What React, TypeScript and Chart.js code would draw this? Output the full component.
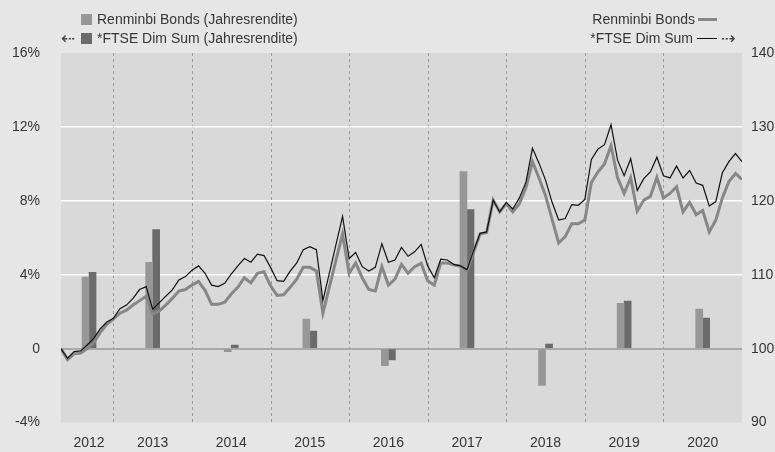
import React, { useEffect, useRef } from 'react';
import { Chart, registerables } from 'chart.js';

Chart.register(...registerables);

// ---- Data ----
const yearLabels = ['2012', '2013', '2014', '2015', '2016', '2017', '2018', '2019', '2020'];
// x position (decimal year) of each annual bar pair / year label
const yearCenters = [2012.69, 2013.5, 2014.5, 2015.5, 2016.5, 2017.5, 2018.5, 2019.5, 2020.5];
const yearBoundaries = [2013, 2014, 2015, 2016, 2017, 2018, 2019, 2020];

// annual returns in %
const rmbAnnual = [3.87, 4.67, -0.16, 1.6, -0.92, 9.58, -1.99, 2.46, 2.14];
const ftseAnnual = [4.13, 6.45, 0.2, 0.95, -0.61, 7.53, 0.25, 2.57, 1.65];

// monthly index series, month-end values from end of April 2012 to end of December 2020
const startYear = 2012;
const startMonth = 4;
const rmbIndex = [
  100.0, 98.5, 99.3, 99.4, 100.0, 100.8, 102.2, 103.3, 104.0,
  104.8, 105.2, 105.9, 106.5, 107.1, 104.7, 105.1, 105.9, 106.8, 107.8, 108.0, 108.6,
  109.1, 107.9, 106.0, 106.0, 106.3, 107.4, 108.3, 109.6, 108.9, 110.2, 110.4, 108.5,
  107.2, 107.3, 108.3, 109.4, 111.0, 111.0, 110.5, 104.8, 108.4, 112.0, 115.5, 110.2,
  111.6, 109.6, 108.0, 107.8, 111.1, 108.6, 109.4, 111.4, 110.2, 111.1, 111.55, 109.2,
  108.6, 111.6, 111.6, 111.3, 111.2, 110.5, 113.0, 115.5, 115.7, 120.1, 118.5, 119.6,
  118.5, 119.6, 121.75, 125.3, 123.1, 120.7, 117.5, 114.3, 115.15, 116.9, 116.9, 117.4,
  122.5, 123.9, 125.0, 127.45, 123.1, 121.0, 123.1, 118.6, 120.1, 120.6, 123.2, 120.4,
  121.0, 121.9, 118.5, 119.8, 118.15, 118.7, 115.8, 117.4, 120.4, 122.6, 123.7, 122.9,
];
const ftseIndex = [
  100.0, 98.7, 99.6, 99.7, 100.5, 101.4, 102.7, 103.6, 104.1,
  105.4, 105.9, 106.8, 108.0, 108.4, 105.35, 106.2, 107.1, 107.95, 109.3, 109.75, 110.6,
  111.2, 110.2, 108.6, 108.4, 108.85, 110.1, 111.2, 112.2, 111.7, 112.8, 112.6, 111.0,
  109.2, 109.1, 110.5, 111.6, 113.4, 113.8, 113.4, 106.5, 110.3, 114.1, 117.9, 112.2,
  113.0, 111.1, 110.5, 111.0, 114.2, 111.7, 112.0, 113.7, 112.5, 113.1, 114.1, 111.2,
  109.6, 112.1, 112.0, 111.4, 111.2, 110.7, 113.2, 115.6, 115.8, 120.1, 118.5, 119.8,
  118.9, 120.4, 122.5, 127.1, 125.1, 122.8, 119.8, 117.4, 117.6, 119.5, 119.4, 120.2,
  125.6, 127.0, 127.6, 130.3, 125.5, 123.4, 125.7, 121.4, 123.0, 123.9, 125.9, 123.4,
  123.1, 124.7, 123.1, 124.1, 122.4, 122.1, 119.3, 119.9, 123.8, 125.3, 126.4, 125.3,
];

const monthX = (i: number) => startYear + (startMonth + i) / 12;

const FONT = "'Liberation Sans', Arial, Helvetica, sans-serif";
const TEXT = '#363636';

const bgPlugin = {
  id: 'bgPlugin',
  beforeDraw(chart: any) {
    const { ctx, chartArea: a } = chart;
    ctx.save();
    ctx.fillStyle = '#e6e6e6';
    ctx.fillRect(0, 0, chart.width, chart.height);
    ctx.fillStyle = '#d9d9d9';
    ctx.fillRect(a.left, a.top, a.right - a.left, a.bottom - a.top);
    const xs = chart.scales.x;
    ctx.strokeStyle = '#9c9c9c';
    ctx.lineWidth = 1;
    ctx.setLineDash([3, 3]);
    yearBoundaries.forEach((yr) => {
      const px = Math.round(xs.getPixelForValue(yr)) + 0.5;
      ctx.beginPath();
      ctx.moveTo(px, a.top);
      ctx.lineTo(px, a.bottom);
      ctx.stroke();
    });
    ctx.restore();
  },
};

export default function App() {
  const ref = useRef<HTMLCanvasElement>(null);

  useEffect(() => {
    document.body.style.margin = '0';
    const canvas = ref.current!;
    const chart = new Chart(canvas, {
      type: 'line',
      data: {
        datasets: [
          {
            type: 'line',
            label: '*FTSE Dim Sum',
            data: ftseIndex.map((v, i) => ({ x: monthX(i), y: v })),
            yAxisID: 'y1',
            borderColor: '#111111',
            borderWidth: 1.2,
            pointRadius: 0,
            tension: 0,
            order: 0,
          },
          {
            type: 'line',
            label: 'Renminbi Bonds',
            data: rmbIndex.map((v, i) => ({ x: monthX(i), y: v })),
            yAxisID: 'y1',
            borderColor: '#878787',
            borderWidth: 3,
            pointRadius: 0,
            tension: 0,
            order: 1,
          },
          {
            type: 'bar',
            label: 'Renminbi Bonds (Jahresrendite)',
            data: rmbAnnual.map((v, i) => ({ x: yearCenters[i], y: v })),
            yAxisID: 'y',
            backgroundColor: '#979797',
            barThickness: 7,
            order: 2,
          },
          {
            type: 'bar',
            label: '*FTSE Dim Sum (Jahresrendite)',
            data: ftseAnnual.map((v, i) => ({ x: yearCenters[i], y: v })),
            yAxisID: 'y',
            backgroundColor: '#6b6b6b',
            barThickness: 7,
            order: 3,
          },
        ] as any,
      },
      options: {
        animation: false,
        responsive: false,
        devicePixelRatio: 1,
        layout: { padding: { top: 53, left: 0, right: 0, bottom: 0 } },
        plugins: {
          legend: { display: false },
          tooltip: { enabled: false },
        },
        font: { family: FONT, size: 14 } as any,
        scales: {
          x: {
            type: 'linear',
            min: monthX(0),
            max: monthX(rmbIndex.length - 1),
            offset: false,
            grid: { display: false, drawTicks: false, offset: false } as any,
            border: { display: false },
            afterBuildTicks: (s: any) => {
              s.ticks = yearCenters.map((v) => ({ value: v }));
            },
            afterFit: (s: any) => {
              s.height = 28;
            },
            ticks: {
              autoSkip: false,
              maxRotation: 0,
              minRotation: 0,
              padding: 12,
              color: TEXT,
              font: { family: FONT, size: 14 },
              callback: (_v: any, i: number) => yearLabels[i],
            },
          },
          y: {
            type: 'linear',
            position: 'left',
            min: -4,
            max: 16,
            afterFit: (s: any) => {
              s.width = 61;
            },
            border: { display: false },
            grid: {
              drawTicks: false,
              color: (c: any) =>
                c.tick && c.tick.value === 0
                  ? '#a9a9a9'
                  : c.tick && (c.tick.value === 16 || c.tick.value === -4)
                  ? 'rgba(0,0,0,0)'
                  : '#ffffff',
              lineWidth: (c: any) => (c.tick && c.tick.value === 0 ? 2 : 1.5),
            },
            ticks: {
              stepSize: 4,
              padding: 21,
              color: TEXT,
              font: { family: FONT, size: 14 },
              callback: (v: any) => (Number(v) === 0 ? '0' : `${v}%`),
            },
          },
          y1: {
            type: 'linear',
            position: 'right',
            min: 90,
            max: 140,
            afterFit: (s: any) => {
              s.width = 33;
            },
            border: { display: false },
            grid: { display: false, drawTicks: false },
            ticks: {
              stepSize: 10,
              padding: 9,
              color: TEXT,
              font: { family: FONT, size: 14 },
            },
          },
        },
      } as any,
      plugins: [bgPlugin],
    });
    return () => chart.destroy();
  }, []);

  const txt: React.CSSProperties = {
    position: 'absolute',
    fontFamily: FONT,
    fontSize: 14,
    lineHeight: '16px',
    color: TEXT,
    whiteSpace: 'nowrap',
  };
  const arrow: React.CSSProperties = {
    position: 'absolute',
    fontFamily: "'DejaVu Sans', sans-serif",
    fontSize: 17,
    lineHeight: '16px',
    color: '#444',
    whiteSpace: 'nowrap',
  };

  return (
    <div
      style={{
        position: 'fixed',
        left: 0,
        top: 0,
        width: 775,
        height: 452,
        background: '#e6e6e6',
        overflow: 'hidden',
      }}
    >
      <canvas ref={ref} width={775} height={452} style={{ position: 'absolute', left: 0, top: 0 }} />
      {/* left legend (bars, left axis) */}
      <div style={{ position: 'absolute', left: 81, top: 14, width: 11, height: 11, background: '#979797' }} />
      <div style={{ ...txt, left: 97, top: 11 }}>Renminbi Bonds (Jahresrendite)</div>
      <div style={{ ...arrow, left: 61, top: 30 }}>⇠</div>
      <div style={{ position: 'absolute', left: 81, top: 33, width: 11, height: 11, background: '#6b6b6b' }} />
      <div style={{ ...txt, left: 97, top: 30 }}>*FTSE Dim Sum (Jahresrendite)</div>
      {/* right legend (lines, right axis) */}
      <div style={{ ...txt, right: 80, top: 11, textAlign: 'right' }}>Renminbi Bonds</div>
      <div style={{ position: 'absolute', left: 698, top: 18, width: 19, height: 3, background: '#878787' }} />
      <div style={{ ...txt, right: 82, top: 30, textAlign: 'right' }}>*FTSE Dim Sum</div>
      <div style={{ position: 'absolute', left: 697, top: 38, width: 20, height: 1, background: '#111' }} />
      <div style={{ ...arrow, left: 721, top: 30 }}>⇢</div>
    </div>
  );
}
